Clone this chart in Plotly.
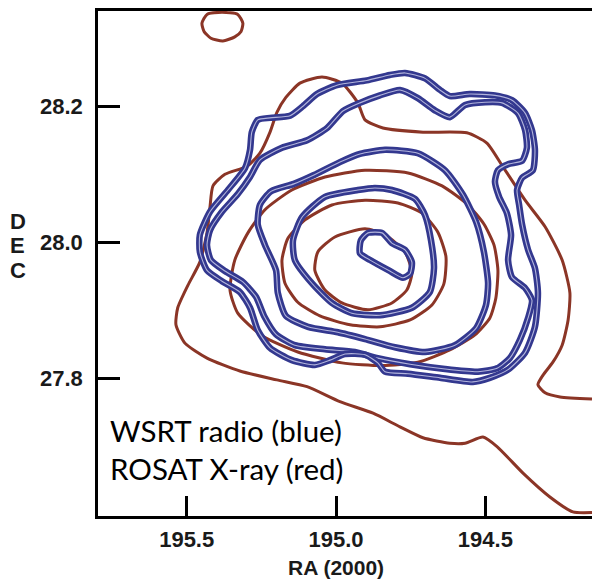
import plotly.graph_objects as go

# ---------------- data (RA, DEC in degrees) ----------------
# ROSAT X-ray contours (red)
xray_r0_ra = [195.449, 195.432, 195.382, 195.329, 195.312, 195.318, 195.339, 195.379, 195.419, 195.442, 195.449]
xray_r0_dec = [28.322, 28.335, 28.338, 28.335, 28.322, 28.310, 28.302, 28.296, 28.300, 28.310, 28.322]

xray_r1_ra = [194.143, 194.250, 194.300, 194.324, 194.307, 194.274, 194.243, 194.223, 194.217, 194.243,
              194.300, 194.367, 194.441, 194.495, 194.562, 194.709, 194.843, 194.903, 194.927, 194.980,
              195.047, 195.121, 195.168, 195.198, 195.221, 195.255, 195.298, 195.372, 195.412, 195.422,
              195.432, 195.456, 195.496, 195.530, 195.536, 195.506, 195.432, 195.322, 195.198, 195.097,
              194.987, 194.876, 194.786, 194.709, 194.619, 194.568, 194.508, 194.461, 194.374, 194.284,
              194.207, 194.143]
xray_r1_dec = [27.770, 27.773, 27.779, 27.791, 27.805, 27.824, 27.849, 27.886, 27.926, 27.974,
               28.023, 28.062, 28.111, 28.146, 28.161, 28.162, 28.168, 28.180, 28.205, 28.234,
               28.243, 28.234, 28.213, 28.191, 28.162, 28.131, 28.112, 28.100, 28.083, 28.052,
               28.014, 27.971, 27.937, 27.904, 27.879, 27.852, 27.830, 27.811, 27.798, 27.788,
               27.766, 27.749, 27.729, 27.713, 27.705, 27.705, 27.714, 27.700, 27.661, 27.626,
               27.604, 27.603]

xray_r2_ra = [195.037, 194.903, 194.759, 194.645, 194.558, 194.505, 194.471, 194.458, 194.465, 194.485,
              194.535, 194.619, 194.726, 194.846, 194.980, 195.128, 195.248, 195.329, 195.355, 195.339,
              195.295, 195.238, 195.148, 195.037]
xray_r2_dec = [28.096, 28.106, 28.102, 28.083, 28.055, 28.027, 27.996, 27.959, 27.918, 27.889,
               27.864, 27.842, 27.824, 27.819, 27.823, 27.839, 27.863, 27.896, 27.930, 27.974,
               28.014, 28.048, 28.077, 28.096]

xray_r3_ra = [194.903, 194.793, 194.712, 194.659, 194.632, 194.639, 194.679, 194.752, 194.853, 194.953,
              195.054, 195.128, 195.171, 195.181, 195.161, 195.104, 195.014, 194.903]
xray_r3_dec = [28.062, 28.058, 28.043, 28.015, 27.979, 27.939, 27.908, 27.886, 27.876, 27.879,
               27.892, 27.912, 27.940, 27.974, 28.006, 28.033, 28.055, 28.062]

xray_r4_ra = [194.903, 194.836, 194.769, 194.746, 194.763, 194.813, 194.893, 194.980, 195.037, 195.071,
              195.061, 195.004, 194.903]
xray_r4_dec = [28.020, 28.011, 27.986, 27.955, 27.930, 27.911, 27.901, 27.911, 27.930, 27.959,
               27.986, 28.008, 28.020]

# WSRT radio contours (blue)
radio_b1_ra = [194.893, 194.846, 194.813, 194.769, 194.746, 194.752, 194.776, 194.820, 194.886, 194.920,
               194.917, 194.893]
radio_b1_dec = [28.014, 28.014, 27.999, 27.989, 27.971, 27.954, 27.948, 27.958, 27.974, 27.984,
                28.003, 28.014]

radio_b2_ra = [194.870, 194.813, 194.736, 194.702, 194.682, 194.672, 194.686, 194.746, 194.853, 194.947,
               195.014, 195.081, 195.138, 195.144, 195.114, 195.037, 194.927, 194.870]
radio_b2_dec = [28.080, 28.077, 28.064, 28.040, 28.003, 27.962, 27.927, 27.904, 27.893, 27.896,
                27.911, 27.940, 27.974, 28.003, 28.037, 28.067, 28.077, 28.080]

radio_b3_ra = [195.255, 195.218, 195.141, 195.074, 194.987, 194.920, 194.836, 194.726, 194.635, 194.575,
               194.531, 194.505, 194.491, 194.498, 194.531, 194.602, 194.702, 194.803, 194.903, 194.994,
               195.094, 195.168, 195.195, 195.201, 195.238, 195.262, 195.255]
radio_b3_dec = [28.055, 28.075, 28.086, 28.099, 28.118, 28.130, 28.136, 28.131, 28.106, 28.070,
                28.030, 27.986, 27.940, 27.908, 27.874, 27.849, 27.839, 27.846, 27.858, 27.868,
                27.876, 27.892, 27.926, 27.959, 27.996, 28.026, 28.055]

radio_b4_ra = [195.255, 195.288, 195.329, 195.382, 195.422, 195.432, 195.419, 195.372, 195.312, 195.268,
               195.241, 195.201, 195.138, 195.037, 194.937, 194.860, 194.752, 194.635, 194.525, 194.461,
               194.418, 194.384, 194.357, 194.344, 194.367, 194.411, 194.424, 194.414, 194.428, 194.454,
               194.468, 194.458, 194.424, 194.377, 194.361, 194.367, 194.391, 194.444, 194.501, 194.568,
               194.619, 194.669, 194.726, 194.786, 194.853, 194.920, 194.977, 195.030, 195.097, 195.181,
               195.255]
radio_b4_dec = [28.121, 28.096, 28.071, 28.045, 28.018, 27.996, 27.974, 27.958, 27.942, 27.920,
                27.892, 27.865, 27.849, 27.843, 27.839, 27.830, 27.821, 27.814, 27.810, 27.815,
                27.830, 27.857, 27.889, 27.915, 27.933, 27.949, 27.974, 28.011, 28.043, 28.067,
                28.089, 28.106, 28.115, 28.120, 28.139, 28.165, 28.190, 28.205, 28.206, 28.202,
                28.184, 28.194, 28.212, 28.224, 28.216, 28.205, 28.193, 28.168, 28.150, 28.139,
                28.121]

radio_b5_ra = [195.262, 195.221, 195.154, 195.111, 195.064, 194.997, 194.897, 194.820, 194.769, 194.702,
               194.652, 194.619, 194.552, 194.468, 194.411, 194.367, 194.344, 194.334, 194.341, 194.377,
               194.394, 194.387, 194.377, 194.357, 194.334, 194.324, 194.334, 194.367, 194.424, 194.485,
               194.542, 194.652, 194.759, 194.836, 194.860, 194.903, 194.970, 195.020, 195.071, 195.148,
               195.221, 195.262, 195.288, 195.322, 195.382, 195.432, 195.456, 195.456, 195.422, 195.362,
               195.305, 195.288, 195.282, 195.262]
radio_b5_dec = [28.180, 28.183, 28.186, 28.200, 28.218, 28.231, 28.238, 28.246, 28.249, 28.241,
                28.224, 28.215, 28.218, 28.216, 28.209, 28.190, 28.165, 28.136, 28.106, 28.095,
                28.077, 28.055, 28.026, 27.989, 27.962, 27.926, 27.876, 27.838, 27.813, 27.801,
                27.795, 27.801, 27.807, 27.810, 27.823, 27.835, 27.836, 27.827, 27.820, 27.827,
                27.845, 27.871, 27.904, 27.927, 27.943, 27.959, 27.986, 28.011, 28.045, 28.077,
                28.109, 28.136, 28.162, 28.180]

x_ticks = [195.5, 195.0, 194.5]
x_ticklabels = ["195.5", "195.0", "194.5"]
y_ticks = [27.8, 28.0, 28.2]
y_ticklabels = ["27.8", "28.0", "28.2"]
y_title_letters = ["D", "E", "C"]

xray_contours = [(xray_r0_ra, xray_r0_dec), (xray_r1_ra, xray_r1_dec), (xray_r2_ra, xray_r2_dec),
                 (xray_r3_ra, xray_r3_dec), (xray_r4_ra, xray_r4_dec)]
radio_contours = [(radio_b1_ra, radio_b1_dec), (radio_b2_ra, radio_b2_dec), (radio_b3_ra, radio_b3_dec),
                  (radio_b4_ra, radio_b4_dec), (radio_b5_ra, radio_b5_dec)]

RED = "#8b3526"
BLUE = "#33388f"
BLUE_CORE = "#b3b5dc"

fig = go.Figure()
for ra, dec in xray_contours:
    fig.add_trace(go.Scatter(x=ra, y=dec, mode="lines",
                             line=dict(color=RED, width=3, shape="spline", smoothing=0.6),
                             hoverinfo="skip"))
for ra, dec in radio_contours:
    fig.add_trace(go.Scatter(x=ra, y=dec, mode="lines",
                             line=dict(color=BLUE, width=6.5, shape="spline", smoothing=0.6),
                             hoverinfo="skip"))
    fig.add_trace(go.Scatter(x=ra, y=dec, mode="lines",
                             line=dict(color=BLUE_CORE, width=1.1, shape="spline", smoothing=0.6),
                             hoverinfo="skip"))

bold_font = dict(family="Liberation Sans, Arial, sans-serif", color="#1a1a1a", weight="bold")
tick_font = dict(bold_font, size=22)

annotations = [
    dict(text="RA (2000)", x=195.0, y=-0.101, xref="x", yref="paper",
         showarrow=False, xanchor="center", yanchor="middle",
         font=dict(bold_font, size=21)),
    dict(text="WSRT radio (blue)<br>ROSAT X-ray (red)", x=0.02, y=0.131,
         xref="paper", yref="paper", showarrow=False, xanchor="left", yanchor="middle",
         align="left", font=dict(family="Lato, sans-serif", size=29.5, color="black")),
]
for i, letter in enumerate(y_title_letters):
    annotations.append(dict(text=letter, x=-0.162, y=0.584 - i * 0.0485, xref="paper", yref="paper",
                            showarrow=False, xanchor="center", yanchor="middle",
                            font=dict(bold_font, size=22)))

fig.update_layout(
    width=592, height=580,
    margin=dict(l=98, r=0, t=11, b=64),
    paper_bgcolor="white", plot_bgcolor="white",
    showlegend=False,
    xaxis=dict(range=[195.797, 194.143], showgrid=False, zeroline=False,
               showline=True, mirror=True, linecolor="black", linewidth=2.5,
               ticks="inside", ticklen=20, tickwidth=2.5, tickcolor="black",
               tickvals=x_ticks, ticktext=x_ticklabels, tickfont=tick_font,
               ticklabelstandoff=2),
    yaxis=dict(range=[27.598, 28.340], showgrid=False, zeroline=False,
               showline=True, mirror=False, linecolor="black", linewidth=2.5,
               ticks="inside", ticklen=22, tickwidth=2.5, tickcolor="black",
               tickvals=y_ticks, ticktext=y_ticklabels, tickfont=tick_font,
               ticklabelstandoff=8),
    annotations=annotations,
)

fig.write_html("out.html")
